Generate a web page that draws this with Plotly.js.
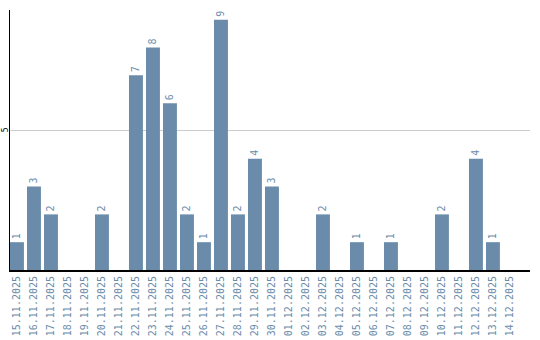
<!DOCTYPE html>
<html>
<head>
<meta charset="utf-8">
<script src="https://cdn.plot.ly/plotly-3.0.1.min.js"></script>
<style>html,body{margin:0;padding:0;background:#fff;}#chart{width:540px;height:340px;}</style>
</head>
<body>
<div id="chart"></div>
<script>
const dates = ["15.11.2025","16.11.2025","17.11.2025","18.11.2025","19.11.2025","20.11.2025","21.11.2025","22.11.2025","23.11.2025","24.11.2025","25.11.2025","26.11.2025","27.11.2025","28.11.2025","29.11.2025","30.11.2025","01.12.2025","02.12.2025","03.12.2025","04.12.2025","05.12.2025","06.12.2025","07.12.2025","08.12.2025","09.12.2025","10.12.2025","11.12.2025","12.12.2025","13.12.2025","14.12.2025"];
const counts = [1,3,2,0,0,2,0,7,8,6,2,1,9,2,4,3,0,0,2,0,1,0,1,0,0,2,0,4,1,0];
const labels = counts.map(v => v > 0 ? String(v) : "");

const barColor = "#6a8caa";
const trace = {
  type: "bar",
  x: dates,
  y: counts,
  text: labels,
  textposition: "outside",
  textangle: -90,
  cliponaxis: false,
  textfont: {family: "DejaVu Sans Mono, monospace", size: 10, color: barColor},
  marker: {color: barColor},
  hoverinfo: "none"
};

const layout = {
  width: 540, height: 340,
  margin: {l: 10, r: 10, t: 10, b: 70, pad: 0},
  paper_bgcolor: "#fff", plot_bgcolor: "#fff",
  showlegend: false,
  bargap: 0.18,
  xaxis: {
    type: "category",
    range: [-0.41, 30.18],
    showline: true, linecolor: "#000", linewidth: 2,
    showgrid: false, zeroline: false,
    ticks: "",
    tickangle: -90,
    tickfont: {family: "DejaVu Sans Mono, monospace", size: 10, color: barColor}
  },
  yaxis: {
    range: [0, 9.35],
    showline: true, linecolor: "#000", linewidth: 1,
    showgrid: true, gridcolor: "#cccccc", gridwidth: 1,
    zeroline: false,
    tickvals: [5], ticktext: ["5"],
    ticks: "",
    tickangle: -90,
    ticklabelstandoff: -2,
    tickfont: {family: "DejaVu Sans Mono, monospace", size: 8, color: "#000"}
  }
};

Plotly.newPlot("chart", [trace], layout, {displayModeBar: false, staticPlot: true});
</script>
</body>
</html>
